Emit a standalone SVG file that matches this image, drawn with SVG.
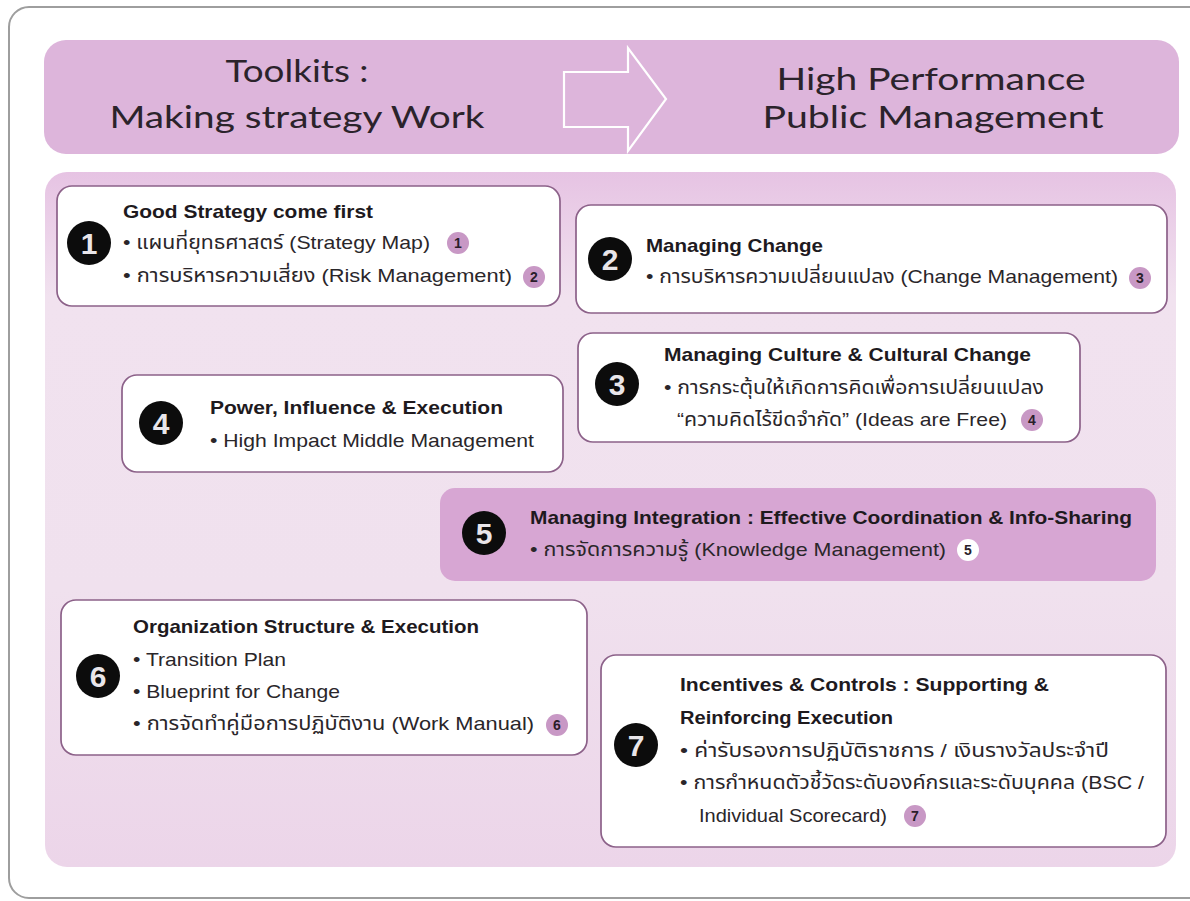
<svg xmlns="http://www.w3.org/2000/svg" width="1190" height="901" viewBox="0 0 1190 901">
  <defs>
    <linearGradient id="panelFill" x1="0" y1="0" x2="0" y2="1">
      <stop offset="0" stop-color="#e6c3e3"/>
      <stop offset="0.18" stop-color="#f1e2ef"/>
      <stop offset="0.6" stop-color="#f0e1ee"/>
      <stop offset="1" stop-color="#ecd5e9"/>
    </linearGradient>
    <style>
      .frame { fill: #ffffff; stroke: #9e9e9e; stroke-width: 2; }
      .header { fill: #ddb5db; }
      .panel { fill: url(#panelFill); }
      .box { fill: #ffffff; stroke: #8c6189; stroke-width: 1.7; }
      .box-hi { fill: #d7a6d3; }
      .head { font-family: "Lato", "Open Sans", "Liberation Sans", sans-serif; font-size: 31px; fill: #2b232b; text-anchor: middle; }
      .title { font-family: "Liberation Sans", "DejaVu Sans", sans-serif; font-weight: bold; font-size: 19px; fill: #1e1a1e; }
      .item { font-family: "Liberation Sans", "Noto Sans Thai", "DejaVu Sans", sans-serif; font-size: 19px; fill: #2a262a; }
      .num-dot { fill: #0c0c0c; }
      .num { font-family: "Liberation Sans", sans-serif; font-weight: bold; font-size: 30px; fill: #e9e6ea; text-anchor: middle; }
      .ref-dot { fill: #c898c5; }
      .ref-dot-w { fill: #ffffff; }
      .ref { font-family: "Liberation Sans", sans-serif; font-weight: bold; font-size: 14px; fill: #2a1e2a; text-anchor: middle; }
    </style>
  </defs>

  <!-- outer frame (runs off the right edge) -->
  <rect class="frame" x="9" y="7" width="1210" height="891" rx="20"/>

  <!-- header band -->
  <g id="header">
    <rect class="header" x="44" y="40" width="1135" height="114" rx="22"/>
    <text class="head" x="297" y="82" textLength="143" lengthAdjust="spacingAndGlyphs">Toolkits :</text>
    <text class="head" x="297" y="128" textLength="375" lengthAdjust="spacingAndGlyphs">Making strategy Work</text>
    <polygon points="564,72 628,72 628,48 666,99 628,151 628,127 564,127" fill="none" stroke="#ffffff" stroke-width="2.2"/>
    <text class="head" x="931" y="90" textLength="309" lengthAdjust="spacingAndGlyphs">High Performance</text>
    <text class="head" x="933" y="128" textLength="341" lengthAdjust="spacingAndGlyphs">Public Management</text>
  </g>

  <!-- content panel -->
  <rect class="panel" x="45" y="172" width="1131" height="695" rx="22"/>

  <!-- 1 -->
  <g id="node1">
    <rect class="box" x="57" y="186" width="503" height="120" rx="15"/>
    <circle class="num-dot" cx="89" cy="243" r="22"/>
    <text class="num" x="89" y="254">1</text>
    <text class="title" x="123" y="218" textLength="250" lengthAdjust="spacingAndGlyphs">Good Strategy come first</text>
    <text class="item" x="123" y="249" textLength="307" lengthAdjust="spacingAndGlyphs">• แผนที่ยุทธศาสตร์ (Strategy Map)</text>
    <circle class="ref-dot" cx="458" cy="243" r="11"/>
    <text class="ref" x="458" y="248">1</text>
    <text class="item" x="123" y="282" textLength="389" lengthAdjust="spacingAndGlyphs">• การบริหารความเสี่ยง (Risk Management)</text>
    <circle class="ref-dot" cx="534" cy="277" r="11"/>
    <text class="ref" x="534" y="282">2</text>
  </g>

  <!-- 2 -->
  <g id="node2">
    <rect class="box" x="576" y="205" width="591" height="108" rx="15"/>
    <circle class="num-dot" cx="610" cy="259" r="22"/>
    <text class="num" x="610" y="270">2</text>
    <text class="title" x="646" y="252" textLength="177" lengthAdjust="spacingAndGlyphs">Managing Change</text>
    <text class="item" x="646" y="283" textLength="472" lengthAdjust="spacingAndGlyphs">• การบริหารความเปลี่ยนแปลง (Change Management)</text>
    <circle class="ref-dot" cx="1140" cy="278" r="11"/>
    <text class="ref" x="1140" y="283">3</text>
  </g>

  <!-- 3 -->
  <g id="node3">
    <rect class="box" x="578" y="333" width="502" height="109" rx="15"/>
    <circle class="num-dot" cx="617" cy="384" r="22"/>
    <text class="num" x="617" y="395">3</text>
    <text class="title" x="664" y="361" textLength="367" lengthAdjust="spacingAndGlyphs">Managing Culture &amp; Cultural Change</text>
    <text class="item" x="664" y="394" textLength="380" lengthAdjust="spacingAndGlyphs">• การกระตุ้นให้เกิดการคิดเพื่อการเปลี่ยนแปลง</text>
    <text class="item" x="677" y="426" textLength="330" lengthAdjust="spacingAndGlyphs">“ความคิดไร้ขีดจำกัด” (Ideas are Free)</text>
    <circle class="ref-dot" cx="1032" cy="420" r="11"/>
    <text class="ref" x="1032" y="425">4</text>
  </g>

  <!-- 4 -->
  <g id="node4">
    <rect class="box" x="122" y="375" width="441" height="97" rx="15"/>
    <circle class="num-dot" cx="161" cy="423" r="22"/>
    <text class="num" x="161" y="434">4</text>
    <text class="title" x="210" y="414" textLength="293" lengthAdjust="spacingAndGlyphs">Power, Influence &amp; Execution</text>
    <text class="item" x="210" y="447" textLength="324" lengthAdjust="spacingAndGlyphs">• High Impact Middle Management</text>
  </g>

  <!-- 5 -->
  <g id="node5">
    <rect class="box-hi" x="440" y="488" width="716" height="93" rx="15"/>
    <circle class="num-dot" cx="484" cy="533" r="22"/>
    <text class="num" x="484" y="544">5</text>
    <text class="title" x="530" y="524" textLength="602" lengthAdjust="spacingAndGlyphs">Managing Integration : Effective Coordination &amp; Info-Sharing</text>
    <text class="item" x="530" y="556" textLength="416" lengthAdjust="spacingAndGlyphs">• การจัดการความรู้ (Knowledge Management)</text>
    <circle class="ref-dot-w" cx="968" cy="550" r="11"/>
    <text class="ref" x="968" y="555">5</text>
  </g>

  <!-- 6 -->
  <g id="node6">
    <rect class="box" x="61" y="600" width="526" height="155" rx="15"/>
    <circle class="num-dot" cx="98" cy="676" r="22"/>
    <text class="num" x="98" y="687">6</text>
    <text class="title" x="133" y="633" textLength="346" lengthAdjust="spacingAndGlyphs">Organization Structure &amp; Execution</text>
    <text class="item" x="133" y="666" textLength="153" lengthAdjust="spacingAndGlyphs">• Transition Plan</text>
    <text class="item" x="133" y="698" textLength="207" lengthAdjust="spacingAndGlyphs">• Blueprint for Change</text>
    <text class="item" x="133" y="730" textLength="401" lengthAdjust="spacingAndGlyphs">• การจัดทำคู่มือการปฏิบัติงาน (Work Manual)</text>
    <circle class="ref-dot" cx="557" cy="725" r="11"/>
    <text class="ref" x="557" y="730">6</text>
  </g>

  <!-- 7 -->
  <g id="node7">
    <rect class="box" x="601" y="655" width="565" height="192" rx="15"/>
    <circle class="num-dot" cx="636" cy="745" r="22"/>
    <text class="num" x="636" y="756">7</text>
    <text class="title" x="680" y="691" textLength="369" lengthAdjust="spacingAndGlyphs">Incentives &amp; Controls : Supporting &amp;</text>
    <text class="title" x="680" y="724" textLength="213" lengthAdjust="spacingAndGlyphs">Reinforcing Execution</text>
    <text class="item" x="680" y="757" textLength="429" lengthAdjust="spacingAndGlyphs">• ค่ารับรองการปฏิบัติราชการ / เงินรางวัลประจำปี</text>
    <text class="item" x="680" y="789" textLength="464" lengthAdjust="spacingAndGlyphs">• การกำหนดตัวชี้วัดระดับองค์กรและระดับบุคคล (BSC /</text>
    <text class="item" x="699" y="822" textLength="188" lengthAdjust="spacingAndGlyphs">Individual Scorecard)</text>
    <circle class="ref-dot" cx="915" cy="816" r="11"/>
    <text class="ref" x="915" y="821">7</text>
  </g>

  <!-- no connectors in this figure -->
  <g id="connectors"/>
</svg>
